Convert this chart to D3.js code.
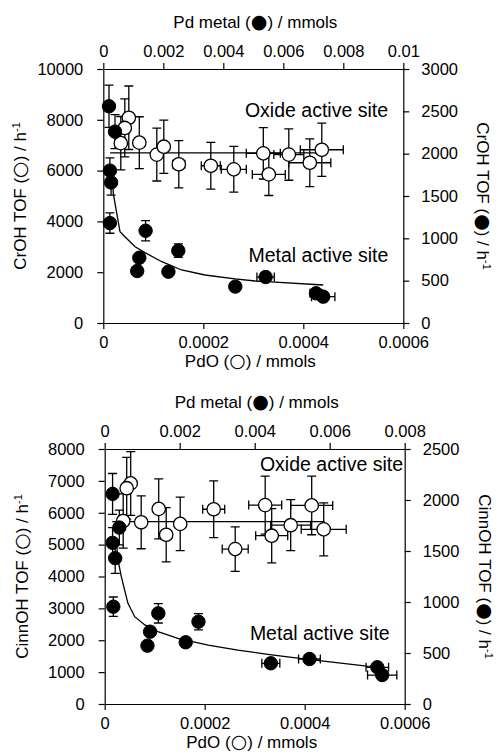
<!DOCTYPE html>
<html>
<head>
<meta charset="utf-8">
<script src="https://cdn.jsdelivr.net/npm/d3@7"></script>
<style>
  body { margin: 0; background: #fff; }
  svg { display: block; }
  text { font-family: "Liberation Sans", Arial, sans-serif; fill: #000; }
</style>
</head>
<body>
<div id="chart"></div>
<script>
// ---- top panel (CrOH) ----
// oxide sites: PdO mmol (bottom axis) vs CrOH TOF (left axis)
const crOxideX    = [0.000051, 0.000043, 0.000035, 0.000072, 0.000107, 0.000121, 0.000151, 0.000215, 0.000261, 0.00032, 0.000331, 0.000371, 0.000413, 0.000437];
const crOxideY    = [8080, 7680, 7080, 7100, 6630, 6940, 6250, 6190, 6050, 6680, 5850, 6630, 6310, 6820];
const crOxideYErr = [1250, 1140, 1050, 1020, 1040, 1050, 930, 920, 900, 1010, 830, 1010, 940, 1050];
const crOxideXErr = [0, 0, 0, 0, 0, 0, 0.000012, 0.000019, 0.000025, 0.000034, 0.000033, 0.00003, 0.000042, 0.000043];
// metal sites: Pd metal mmol (top axis) vs CrOH TOF (right axis)
const crMetalX    = [0.00019, 0.00039, 0.00022, 0.00026, 0.00022, 0.00141, 0.0012, 0.00113, 0.0025, 0.00217, 0.0044, 0.00541, 0.00709, 0.00733];
const crMetalY    = [2560, 2260, 1800, 1660, 1180, 1090, 770, 614, 854, 606, 430, 543, 351, 311];
const crMetalYErr = [250, 200, 150, 150, 120, 120, 0, 0, 80, 0, 0, 0, 0, 0];
const crMetalXErr = [0, 0, 0, 0, 0, 0, 0, 0, 0, 0, 0, 0.00029, 0.0002, 0.00039];
const crOxideFitX = [0.0000135, 0.000427];
const crOxideFitY = [6700, 6700];
const crMetalFitX = [0.00031, 0.000333, 0.00039, 0.000557, 0.00072, 0.00106, 0.00139, 0.00195, 0.00261, 0.00339, 0.00439, 0.00506, 0.00545, 0.00733];
const crMetalFitY = [1720, 1530, 1414, 1078, 1019, 901, 831, 724, 626, 567, 520, 496, 488, 449];

// ---- bottom panel (CinnOH) ----
const cinOxideX    = [0.000052, 0.000044, 0.000037, 0.000073, 0.000108, 0.000123, 0.000151, 0.000218, 0.000261, 0.000321, 0.000334, 0.000372, 0.000414, 0.000438];
const cinOxideY    = [6920, 6770, 5740, 5700, 6120, 5310, 5650, 6110, 4860, 6240, 5280, 5610, 6230, 5480];
const cinOxideYErr = [1000, 970, 850, 830, 940, 850, 840, 890, 700, 910, 850, 800, 920, 830];
const cinOxideXErr = [0, 0, 0, 0, 0, 0, 0, 0.000022, 0.000026, 0.000033, 0.000032, 0.00004, 0.000042, 0.000045];
const cinMetalX    = [0.00021, 0.00039, 0.00021, 0.00028, 0.00023, 0.00143, 0.00121, 0.00114, 0.0025, 0.00216, 0.00443, 0.00546, 0.00727, 0.0074];
const cinMetalY    = [2060, 1730, 1580, 1430, 954, 889, 709, 572, 807, 605, 399, 441, 360, 284];
const cinMetalYErr = [200, 170, 150, 150, 95, 95, 0, 0, 80, 0, 0, 0, 0, 0];
const cinMetalXErr = [0, 0, 0, 0, 0, 0, 0, 0, 0, 0, 0.00024, 0.00029, 0.0003, 0.00039];
const cinOxideFitX = [0.000015, 0.00044];
const cinOxideFitY = [5720, 5720];
const cinMetalFitX = [0.00032, 0.000355, 0.000443, 0.00062, 0.0008, 0.00107, 0.00142, 0.00195, 0.00276, 0.00355, 0.00435, 0.0052, 0.00699, 0.00743];
const cinMetalFitY = [1560, 1412, 1248, 987, 856, 775, 709, 644, 578, 529, 487, 448, 372, 366];

// ticks
const pdoTicks = [0, 0.0002, 0.0004, 0.0006];
const crMetalTicks = [0, 0.002, 0.004, 0.006, 0.008, 0.01];
const cinMetalTicks = [0, 0.002, 0.004, 0.006, 0.008];
const crLeftTicks = [0, 2000, 4000, 6000, 8000, 10000];
const crRightTicks = [0, 500, 1000, 1500, 2000, 2500, 3000];
const cinLeftTicks = [0, 1000, 2000, 3000, 4000, 5000, 6000, 7000, 8000];
const cinRightTicks = [0, 500, 1000, 1500, 2000, 2500];

const width = 498, height = 754;
const fs = 16.5;

const svg = d3.select("#chart").append("svg")
  .attr("width", width)
  .attr("height", height);

const zip = (...cols) => cols[0].map((_, i) => cols.map(c => c[i]));

// text with an enlarged marker symbol, e.g. "Pd metal (●) / mmols"
function symText(t, before, sym, after) {
  t.append("tspan").text(before);
  t.append("tspan").style("font-size", "19px").attr("font-family", "DejaVu Sans").text(sym);
  t.append("tspan").text(after);
  return t;
}

function drawPanel(p) {
  const g = svg.append("g");
  const xB = d3.scaleLinear().domain([0, 0.0006]).range([p.left, p.right]);
  const xT = d3.scaleLinear().domain([0, p.topMax]).range([p.left, p.right]);
  const yL = d3.scaleLinear().domain([0, p.leftMax]).range([p.bottom, p.top]);
  const yR = d3.scaleLinear().domain([0, p.rightMax]).range([p.bottom, p.top]);
  const fmt = d => String(+d.toFixed(6));

  const axes = [
    [d3.axisBottom(xB).tickValues(pdoTicks), `translate(0,${p.bottom})`, 7],
    [d3.axisTop(xT).tickValues(p.topTicks), `translate(0,${p.top})`, 6],
    [d3.axisLeft(yL).tickValues(p.leftTicks), `translate(${p.left},0)`, 14],
    [d3.axisRight(yR).tickValues(p.rightTicks), `translate(${p.right},0)`, 12]
  ];
  axes.forEach(([ax, tr, pad]) => {
    const a = g.append("g").attr("transform", tr)
      .call(ax.tickSize(6).tickSizeOuter(0).tickPadding(pad).tickFormat(fmt));
    a.select(".domain").attr("stroke", "#000").attr("stroke-width", 1.2);
    a.selectAll(".tick line").attr("stroke", "#000").attr("stroke-width", 1.2);
    a.selectAll("text").style("font-size", fs + "px").attr("font-family", null);
  });

  const line = d3.line();
  // fit lines
  g.append("path")
    .attr("d", line(zip(p.oxFitX, p.oxFitY).map(d => [xB(d[0]), yL(d[1])])))
    .attr("fill", "none").attr("stroke", "#000").attr("stroke-width", 1.3);
  g.append("path")
    .attr("d", line(zip(p.mtFitX, p.mtFitY).map(d => [xT(d[0]), yR(d[1])])))
    .attr("fill", "none").attr("stroke", "#000").attr("stroke-width", 1.3);

  // error bars
  function errorBars(rows, xs, ys) {
    const cap = 4.5;
    const eb = g.append("g").attr("stroke", "#000").attr("stroke-width", 1.3).attr("fill", "none");
    rows.forEach(([x, y, ye, xe]) => {
      if (ye > 0) {
        const cx = xs(x), y1 = ys(y - ye), y2 = ys(y + ye);
        eb.append("path").attr("d",
          `M${cx},${y1}V${y2}M${cx - cap},${y1}H${cx + cap}M${cx - cap},${y2}H${cx + cap}`);
      }
      if (xe > 0) {
        const cy = ys(y), x1 = xs(x - xe), x2 = xs(x + xe);
        eb.append("path").attr("d",
          `M${x1},${cy}H${x2}M${x1},${cy - cap}V${cy + cap}M${x2},${cy - cap}V${cy + cap}`);
      }
    });
  }
  const oxRows = zip(p.oxX, p.oxY, p.oxYErr, p.oxXErr);
  const mtRows = zip(p.mtX, p.mtY, p.mtYErr, p.mtXErr);
  errorBars(oxRows, xB, yL);
  errorBars(mtRows, xT, yR);

  g.append("g").selectAll("circle").data(oxRows).join("circle")
    .attr("cx", d => xB(d[0])).attr("cy", d => yL(d[1])).attr("r", 6.7)
    .attr("fill", "#fff").attr("stroke", "#000").attr("stroke-width", 1.3);
  g.append("g").selectAll("circle").data(mtRows).join("circle")
    .attr("cx", d => xT(d[0])).attr("cy", d => yR(d[1])).attr("r", 6.7)
    .attr("fill", "#000").attr("stroke", "#000").attr("stroke-width", 1);

  // annotations
  g.append("text").attr("x", p.oxLabelX).attr("y", p.oxLabelY)
    .attr("text-anchor", "end").style("font-size", "19.5px").text("Oxide active site");
  g.append("text").attr("x", p.right - 15).attr("y", p.mtLabelY)
    .attr("text-anchor", "end").style("font-size", "19.5px").text("Metal active site");

  // axis titles
  const cx = (p.left + p.right) / 2, cy = (p.top + p.bottom) / 2;
  symText(g.append("text").attr("x", cx + 2).attr("y", p.top - 41).attr("text-anchor", "middle")
    .style("font-size", "17px"), "Pd metal (", "\u25CF", ") / mmols");
  symText(g.append("text").attr("x", cx - 3).attr("y", p.bottom + 44).attr("text-anchor", "middle")
    .style("font-size", "17px"), "PdO (", "\u25CB", ") / mmols");

  function yTitle(x, rot, sym) {
    const t = g.append("text").attr("transform", `translate(${x},${cy}) rotate(${rot})`)
      .attr("text-anchor", "middle").style("font-size", "17px");
    symText(t, `${p.name} TOF (`, sym, ") / h");
    t.append("tspan").attr("dy", -6).style("font-size", "11px").text("-1");
  }
  yTitle(p.left - 77, -90, "\u25CB");
  yTitle(p.right + 74, 90, "\u25CF");
}

drawPanel({
  name: "CrOH", left: 103.3, right: 403.3, top: 69, bottom: 323,
  topMax: 0.01, leftMax: 10000, rightMax: 3000,
  topTicks: crMetalTicks, leftTicks: crLeftTicks, rightTicks: crRightTicks,
  oxX: crOxideX, oxY: crOxideY, oxYErr: crOxideYErr, oxXErr: crOxideXErr,
  mtX: crMetalX, mtY: crMetalY, mtYErr: crMetalYErr, mtXErr: crMetalXErr,
  oxFitX: crOxideFitX, oxFitY: crOxideFitY, mtFitX: crMetalFitX, mtFitY: crMetalFitY,
  oxLabelX: 388, oxLabelY: 117, mtLabelY: 262
});

drawPanel({
  name: "CinnOH", left: 104.7, right: 404.7, top: 449, bottom: 704,
  topMax: 0.008, leftMax: 8000, rightMax: 2500,
  topTicks: cinMetalTicks, leftTicks: cinLeftTicks, rightTicks: cinRightTicks,
  oxX: cinOxideX, oxY: cinOxideY, oxYErr: cinOxideYErr, oxXErr: cinOxideXErr,
  mtX: cinMetalX, mtY: cinMetalY, mtYErr: cinMetalYErr, mtXErr: cinMetalXErr,
  oxFitX: cinOxideFitX, oxFitY: cinOxideFitY, mtFitX: cinMetalFitX, mtFitY: cinMetalFitY,
  oxLabelX: 403, oxLabelY: 471, mtLabelY: 640
});
</script>
</body>
</html>
